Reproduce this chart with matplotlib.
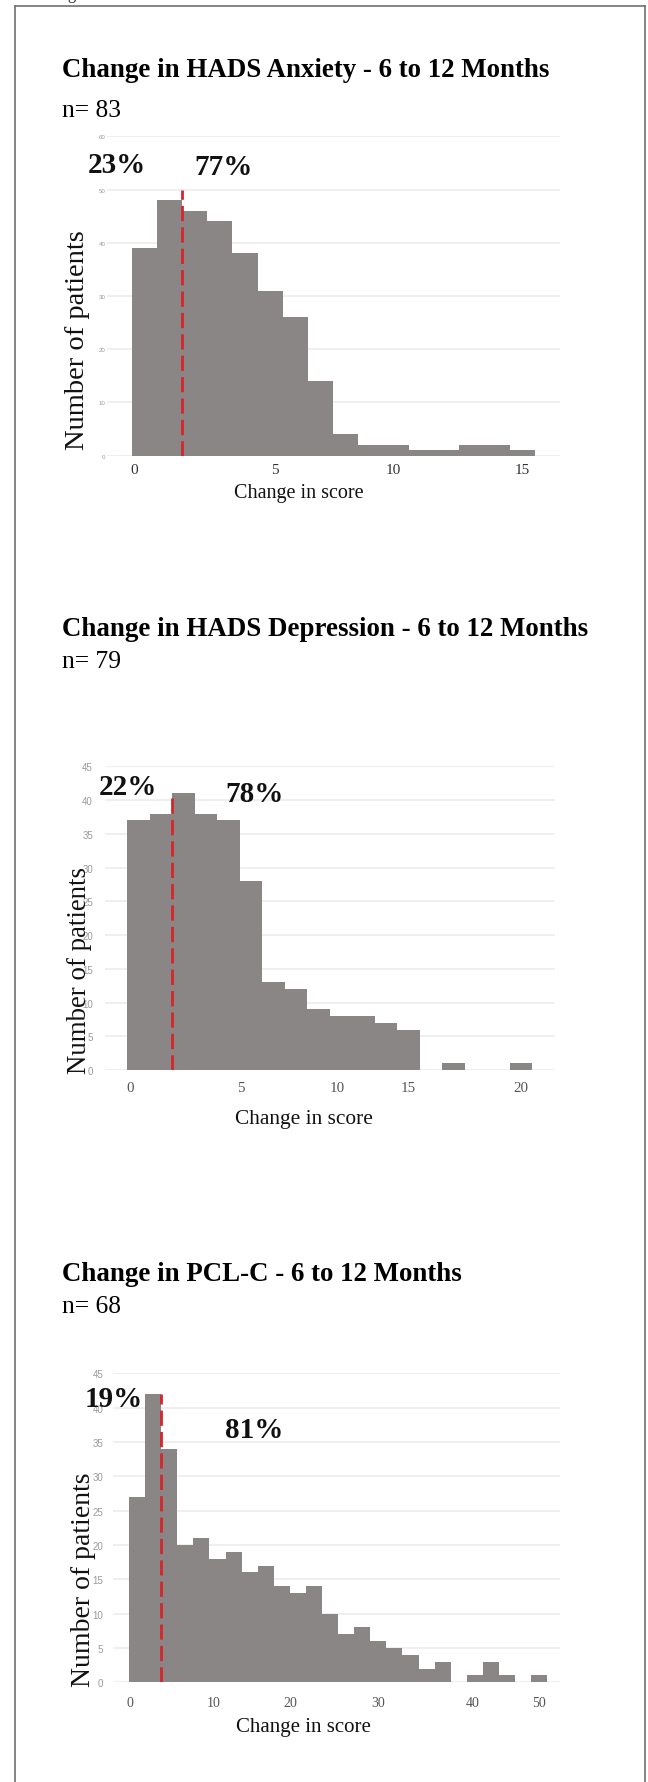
import matplotlib
matplotlib.use("Agg")
import matplotlib.pyplot as plt
import numpy as np
from matplotlib.lines import Line2D

# ---------------- data ----------------
titles = ["Change in HADS Anxiety - 6 to 12 Months",
          "Change in HADS Depression - 6 to 12 Months",
          "Change in PCL-C - 6 to 12 Months"]
n_labels = ["n= 83", "n= 79", "n= 68"]

anx_counts = [39, 48, 46, 44, 38, 31, 26, 14, 4, 2, 2, 1, 1, 2, 2, 1]
dep_counts = [37, 38, 41, 38, 37, 28, 13, 12, 9, 8, 8, 7, 6, 0, 1, 0, 0, 1]
pcl_counts = [27, 42, 34, 20, 21, 18, 19, 16, 17, 14, 13, 14, 10, 7, 8, 6, 5, 4,
              2, 3, 0, 1, 3, 1, 0, 1]

anx_xtick_labels = ["0", "5", "10", "15"]
dep_xtick_labels = ["0", "5", "10", "15", "20"]
pcl_xtick_labels = ["0", "10", "20", "30", "40", "50"]

threshold_bin = [2, 2, 2]          # bin edge where the dashed line sits
threshold_top = [50, 41, 42]       # height the dashed line reaches
left_pct = ["23%", "22%", "19%"]
right_pct = ["77%", "78%", "81%"]

xlabel_text = "Change in score"
ylabel_text = "Number of patients"

# ---------------- layout / style ----------------
W, H = 648, 1783
fig = plt.figure(figsize=(W / 100, H / 100), dpi=100)
fig.patch.set_facecolor("white")

def fx(x):
    return x / W

def fy(y):
    return 1 - y / H

BAR = "#8a8685"
RED = "#d6262b"
GRID = "#ebebeb"
SERIF = ["Liberation Serif", "DejaVu Serif"]
SANS = ["Liberation Sans", "DejaVu Sans"]

panels = [
    dict(counts=anx_counts, xt_labels=anx_xtick_labels,
         xt_pos=[0.1, 5.7, 10.4, 15.5],
         box=(106.7, 137.3, 560, 456.7), xlim=(-0.99, 17.0), ymax=60, ystep=10,
         ytick_fs=4.4, ytick_pad=1.0, xtick_fs=11, xtick_pad=5.5, xtick_col="#333333",
         title_y=77, n_y=117, xlabel=(299, 498, 14.5), ylabel=(78, 340, 20.5),
         lp=(-0.59, 53.3), rp=(3.63, 52.9)),
    dict(counts=dep_counts, xt_labels=dep_xtick_labels,
         xt_pos=[0.12, 5.04, 9.32, 12.5, 17.5],
         box=(105, 767.3, 555, 1071), xlim=(-0.99, 19.0), ymax=45, ystep=5,
         ytick_fs=7, ytick_pad=8.6, xtick_fs=10.8, xtick_pad=8, xtick_col="#555555",
         title_y=636, n_y=668, xlabel=(304, 1124, 15.4), ylabel=(79, 970, 19.4),
         lp=(0.02, 40.9), rp=(5.64, 39.9)),
    dict(counts=pcl_counts, xt_labels=pcl_xtick_labels,
         xt_pos=[0.04, 5.27, 10.0, 15.5, 21.4, 25.5],
         box=(113, 1374.3, 560, 1683.3), xlim=(-1.0, 26.8), ymax=45, ystep=5,
         ytick_fs=7, ytick_pad=7, xtick_fs=10, xtick_pad=10, xtick_col="#555555",
         title_y=1281, n_y=1313, xlabel=(303.5, 1732, 15), ylabel=(83, 1580, 20),
         lp=(-0.97, 40.2), rp=(7.78, 35.7)),
]

for i, p in enumerate(panels):
    l, t, r, b = p["box"]
    ax = fig.add_axes([fx(l), fy(b), (r - l) / W, (b - t) / H])
    counts = p["counts"]
    edges = np.arange(len(counts) + 1)
    ax.stairs(counts, edges, fill=True, color=BAR, linewidth=0, zorder=2)
    ax.plot([threshold_bin[i], threshold_bin[i]], [0, threshold_top[i]],
            color=RED, lw=2.0, ls=(0, (5.5, 2.2)), zorder=3, solid_capstyle="butt")
    ax.set_xlim(*p["xlim"])
    ax.set_ylim(0, p["ymax"])
    yt = np.arange(0, p["ymax"] + 1, p["ystep"])
    ax.set_yticks(yt, [str(v) for v in yt], fontfamily=SANS,
                  fontsize=p["ytick_fs"], color="#9a9a9a")
    ax.set_xticks(p["xt_pos"], p["xt_labels"], fontfamily=SERIF,
                  fontsize=p["xtick_fs"], color=p["xtick_col"])
    ax.tick_params(axis="both", length=0)
    ax.tick_params(axis="y", pad=p["ytick_pad"])
    ax.tick_params(axis="x", pad=p["xtick_pad"])
    ax.yaxis.grid(True, color=GRID, lw=1.1)
    ax.set_axisbelow(True)
    for s in ax.spines.values():
        s.set_visible(False)
    ax.patch.set_alpha(0)

    ax.text(p["lp"][0], p["lp"][1], left_pct[i], ha="center", va="baseline",
            fontfamily=SERIF, fontweight="bold", fontsize=21, color="#111111",
            zorder=4)
    ax.text(p["rp"][0], p["rp"][1], right_pct[i], ha="center", va="baseline",
            fontfamily=SERIF, fontweight="bold", fontsize=21, color="#111111",
            zorder=4)

    fig.text(fx(62), fy(p["title_y"]), titles[i], ha="left", va="baseline",
             fontfamily=SERIF, fontweight="bold", fontsize=19.4, color="#000000")
    fig.text(fx(62), fy(p["n_y"]), n_labels[i], ha="left", va="baseline",
             fontfamily=SERIF, fontsize=18.4, color="#000000")
    xl = p["xlabel"]
    fig.text(fx(xl[0]), fy(xl[1]), xlabel_text, ha="center", va="baseline",
             fontfamily=SERIF, fontsize=xl[2], color="#111111")
    yl = p["ylabel"]
    fig.text(fx(yl[0]), fy(yl[1]), ylabel_text, ha="center", va="center",
             rotation=90, fontfamily=SERIF, fontsize=yl[2], color="#111111")

# frame around the figure panel
for xs, ys in [((15, 15), (6.7, 1790)), ((15, 645), (6.7, 6.7)), ((645, 645), (6.7, 1790))]:
    fig.add_artist(Line2D([fx(xs[0]), fx(xs[1])], [fy(ys[0]), fy(ys[1])],
                          transform=fig.transFigure, color="#707070", lw=1.2))

# caption cut off at the very top
fig.text(fx(54), fy(-0.8), "Figure 2", ha="left", va="baseline",
         fontfamily=SERIF, fontsize=12, color="#333333")

fig.savefig("out.png", dpi=100, facecolor="white")
